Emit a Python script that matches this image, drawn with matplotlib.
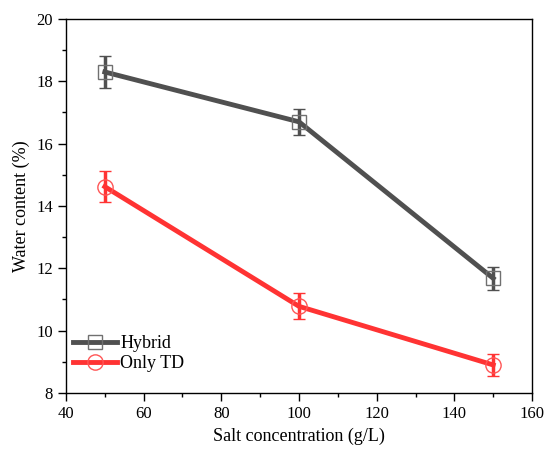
import numpy as np
import matplotlib.pyplot as plt
from matplotlib.ticker import MultipleLocator

plt.rcParams['font.family'] = ['Liberation Serif', 'DejaVu Serif']

salt = [50, 100, 150]
hybrid = [18.3, 16.7, 11.68]
hybrid_err = [0.5, 0.42, 0.36]
only_td = [14.62, 10.78, 8.9]
only_td_err = [0.5, 0.42, 0.35]

fig = plt.figure(figsize=(5.44, 4.5), dpi=100)
ax = fig.add_axes([0.1213, 0.1267, 0.8567, 0.8311])

h1 = ax.errorbar(salt, hybrid, yerr=hybrid_err, color='#505050', lw=3.5, marker='s',
                 ms=10, mfc='none', mec='#707070', mew=1.0, capsize=4, capthick=3,
                 elinewidth=2.5, label='Hybrid')
h2 = ax.errorbar(salt, only_td, yerr=only_td_err, color='#ff3333', lw=3.5, marker='o',
                 ms=11, mfc='none', mec='#ff5555', mew=1.0, capsize=4, capthick=3,
                 elinewidth=2.5, label='Only TD')

ax.set_xlim(40, 160)
ax.set_ylim(8, 20)
ax.xaxis.set_major_locator(MultipleLocator(20))
ax.xaxis.set_minor_locator(MultipleLocator(10))
ax.yaxis.set_major_locator(MultipleLocator(2))
ax.yaxis.set_minor_locator(MultipleLocator(1))
ax.tick_params(which='major', direction='out', length=6, width=1, labelsize=12)
ax.tick_params(which='minor', direction='out', length=3, width=1)
for s in ax.spines.values():
    s.set_linewidth(1)

ax.set_xlabel('Salt concentration (g/L)', fontsize=13)
ax.set_ylabel('Water content (%)', fontsize=13)
ax.legend([h1[0], h2[0]], ['Hybrid', 'Only TD'], loc='lower left',
          bbox_to_anchor=(0.0, 0.037), borderaxespad=0, frameon=False,
          fontsize=13, handlelength=2.4, labelspacing=0.15, handletextpad=0.2)

fig.savefig('out.png', dpi=100)
